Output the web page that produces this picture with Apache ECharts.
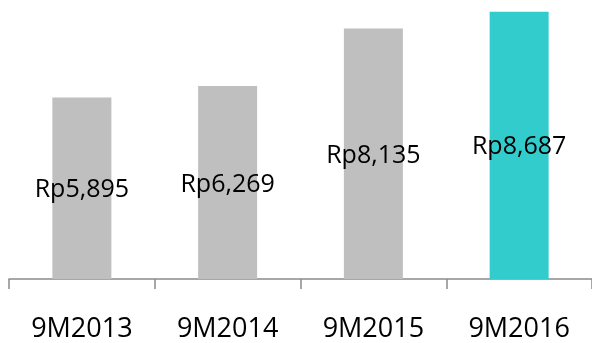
<!DOCTYPE html>
<html>
<head>
<meta charset="utf-8">
<script src="https://cdn.jsdelivr.net/npm/echarts@6/dist/echarts.min.js"></script>
<style>
  html, body { margin: 0; padding: 0; background: #ffffff; }
  #chart { width: 592px; height: 343px; }
</style>
</head>
<body>
<div id="chart"></div>
<script>
// Nine-month results, in billions of rupiah
const periods = ['9M2013', '9M2014', '9M2015', '9M2016'];
const values = [5895, 6269, 8135, 8687];
const barColors = ['#bfbfbf', '#bfbfbf', '#bfbfbf', '#33cccc'];

const chart = echarts.init(document.getElementById('chart'), null, { renderer: 'canvas' });

chart.setOption({
  animation: false,
  backgroundColor: '#ffffff',
  grid: { left: 9, right: -5, top: 2, bottom: 61, containLabel: false },
  xAxis: {
    type: 'category',
    data: periods,
    boundaryGap: true,
    axisLine: { show: true, lineStyle: { color: '#8a8a8a', width: 1.5 } },
    axisTick: { show: true, length: 10, lineStyle: { color: '#8a8a8a', width: 1.5 } },
    axisLabel: {
      margin: 37,
      color: '#000000',
      fontFamily: 'Open Sans',
      fontSize: 27
    }
  },
  yAxis: {
    type: 'value',
    min: 0,
    max: 9000,
    show: false,
    splitLine: { show: false }
  },
  series: [{
    type: 'bar',
    barWidth: 59,
    data: values.map((v, i) => ({ value: v, itemStyle: { color: barColors[i] } })),
    label: {
      show: true,
      position: 'inside',
      offset: [0, 2],
      color: '#000000',
      fontFamily: 'Open Sans',
      fontSize: 25,
      formatter: p => 'Rp' + p.value.toLocaleString('en-US')
    }
  }]
});
</script>
</body>
</html>
